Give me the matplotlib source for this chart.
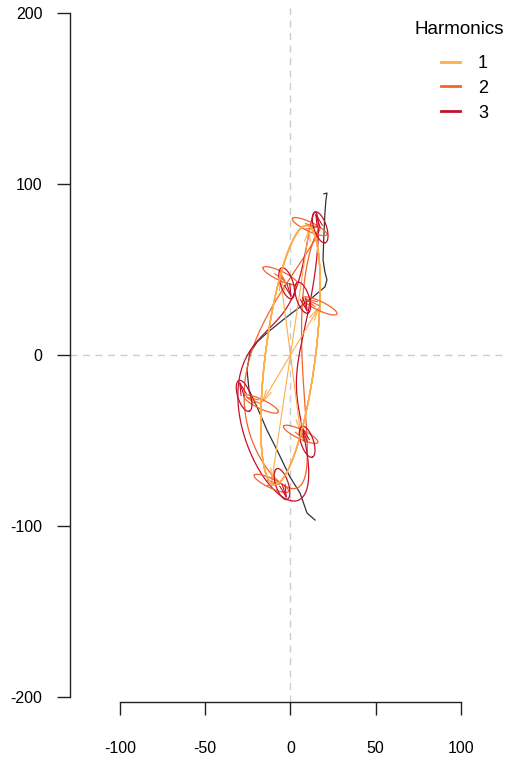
import numpy as np
import matplotlib.pyplot as plt

plt.rcParams['font.family'] = ['Liberation Sans', 'DejaVu Sans']
plt.rcParams['axes.unicode_minus'] = False

# black outline
outline_x = [19.6, 21.4, 20.8, 20.2, 19.6, 19.1, 20.2, 21.4, 20.2, 13.2, 5.6, -4.4,
             -13.8, -19.6, -23.8, -25.5, -24.3, -19.6, -13.8, -7.9, -0.3, 5.6, 9.7, 14.4]
outline_y = [94.2, 94.7, 90.6, 83.0, 70.2, 55.6, 48.5, 43.9, 39.8, 33.9, 28.1, 20.5,
             12.9, 7.6, 1.2, -8.8, -20.5, -30.4, -43.9, -55.6, -71.3, -80.7, -92.4, -96.5]

# elliptic Fourier coefficients of the first three harmonics (estimated)
harm_a = [17.2, -10.0, 3.0]
harm_b = [3.0, 1.4, 3.5]
harm_c = [28.7, 4.8, -9.0]
harm_d = [70.1, 2.3, 1.2]
centre_x, centre_y = 0.0, 0.0
harm_labels = ["1", "2", "3"]
harm_colors = ["#FDAE4B", "#F4642C", "#C5102C"]
# positions along the outline where ellipses are shown (multiples of pi/3)
t_steps = [1, 2, 3, 4, 5, 6]

nb_pts = 360
s = np.linspace(0, 2 * np.pi, nb_pts)

fig = plt.figure(figsize=(5.06, 7.6), dpi=100)
ax = fig.add_axes([70 / 506, 58 / 760, 436 / 506, 694 / 760])

ax.axhline(0, color="#CCCCCC", lw=1, ls=(0, (5, 4)), zorder=0)
ax.axvline(0, color="#CCCCCC", lw=1, ls=(0, (5, 4)), zorder=0)

ax.plot(outline_x, outline_y, color="#333333", lw=0.9, zorder=2)

# reconstructions with 1, 2, 3 harmonics
for k in range(3):
    x = np.full_like(s, centre_x)
    y = np.full_like(s, centre_y)
    for i in range(k + 1):
        n = i + 1
        x = x + harm_a[i] * np.cos(n * s) + harm_b[i] * np.sin(n * s)
        y = y + harm_c[i] * np.cos(n * s) + harm_d[i] * np.sin(n * s)
    ax.plot(x, y, color=harm_colors[k], lw=0.9, label=harm_labels[k], zorder=3)

# ellipses and arrows at each position
for step in t_steps:
    t = step * np.pi / 3
    px, py = centre_x, centre_y
    for i in range(3):
        n = i + 1
        ex = px + harm_a[i] * np.cos(s) + harm_b[i] * np.sin(s)
        ey = py + harm_c[i] * np.cos(s) + harm_d[i] * np.sin(s)
        ax.plot(ex, ey, color=harm_colors[i], lw=0.9, zorder=3)
        nx = px + harm_a[i] * np.cos(n * t) + harm_b[i] * np.sin(n * t)
        ny = py + harm_c[i] * np.cos(n * t) + harm_d[i] * np.sin(n * t)
        ax.annotate("", xy=(nx, ny), xytext=(px, py),
                    arrowprops=dict(arrowstyle="->,head_length=0.9,head_width=0.2",
                                    color=harm_colors[i], lw=0.8,
                                    shrinkA=0, shrinkB=0, mutation_scale=10),
                    zorder=3)
        px, py = nx, ny

ax.set_xlim(-129.3, 126.4)
ax.set_ylim(-202.9, 202.9)
ax.set_xticks([-100, -50, 0, 50, 100])
ax.set_yticks([-200, -100, 0, 100, 200])
for side in ["top", "right"]:
    ax.spines[side].set_visible(False)
ax.spines["left"].set_bounds(-200, 200)
ax.spines["bottom"].set_bounds(-100, 100)
for side in ["left", "bottom"]:
    ax.spines[side].set_color("#222222")
    ax.spines[side].set_linewidth(1)
ax.tick_params(axis="both", direction="out", length=9.4, width=1,
               color="#222222", labelsize=11.5)
ax.tick_params(axis="y", pad=10.5)
ax.tick_params(axis="x", pad=19)

leg = ax.legend(loc="upper left", frameon=False,
                bbox_to_anchor=(441 / 506, 705 / 760), bbox_transform=fig.transFigure,
                fontsize=13, handlelength=1.05,
                handletextpad=1.0, labelspacing=0.43, borderaxespad=0, borderpad=0)
for line in leg.get_lines():
    line.set_linewidth(2)
fig.text(459 / 506, 1 - 30 / 760, "Harmonics", fontsize=13.5,
         ha="center", va="center")

fig.savefig("out.png", dpi=100)
